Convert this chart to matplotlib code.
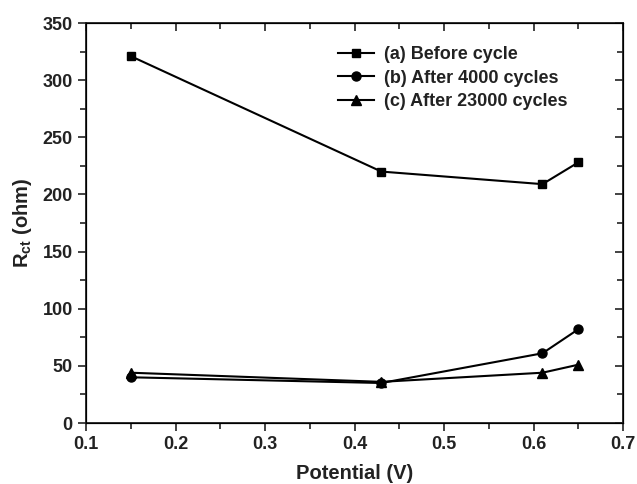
import numpy as np
from matplotlib import pyplot as plt
from matplotlib.ticker import MultipleLocator

plt.rcParams['font.family'] = ['Liberation Sans', 'DejaVu Sans']
plt.rcParams['font.weight'] = 'bold'
plt.rcParams['mathtext.fontset'] = 'custom'
plt.rcParams['mathtext.bf'] = 'Liberation Sans:bold'
plt.rcParams['mathtext.rm'] = 'Liberation Sans:bold'

potential = [0.15, 0.43, 0.61, 0.65]
before = [321, 220, 209, 228]
after4000 = [40, 35, 61, 82]
after23000 = [44, 36, 44, 51]

fig = plt.figure(figsize=(6.37, 4.84), dpi=100)
ax = fig.add_axes([86/637, 61/484, 537/637, 400/484])

ax.plot(potential, before, "k-s", ms=6, lw=1.5, label="(a) Before cycle")
ax.plot(potential, after4000, "k-o", ms=6.5, lw=1.5, label="(b) After 4000 cycles")
ax.plot(potential, after23000, "k-^", ms=6.5, lw=1.5, label="(c) After 23000 cycles")

ax.set_xlim(0.1, 0.7)
ax.set_ylim(0, 350)
ax.xaxis.set_major_locator(MultipleLocator(0.1))
ax.xaxis.set_minor_locator(MultipleLocator(0.05))
ax.yaxis.set_major_locator(MultipleLocator(50))
ax.yaxis.set_minor_locator(MultipleLocator(25))
ax.tick_params(which='both', direction='out', width=1.2, labelsize=13, colors='#222222')
ax.tick_params(which='major', length=6)
ax.tick_params(which='minor', length=4)
for s in ax.spines.values():
    s.set_linewidth(1.3)
    s.set_color('#222222')

# mirror ticks on top/right, inward, no labels
axt = ax.twiny()
axt.set_xlim(ax.get_xlim())
axt.xaxis.set_major_locator(MultipleLocator(0.1))
axt.xaxis.set_minor_locator(MultipleLocator(0.05))
axt.tick_params(which='both', direction='in', labeltop=False, width=1.2, colors='#222222')
axt.tick_params(which='major', length=6)
axt.tick_params(which='minor', length=4)
axr = ax.twinx()
axr.set_ylim(ax.get_ylim())
axr.yaxis.set_major_locator(MultipleLocator(50))
axr.yaxis.set_minor_locator(MultipleLocator(25))
axr.tick_params(which='both', direction='in', labelright=False, width=1.2, colors='#222222')
axr.tick_params(which='major', length=6)
axr.tick_params(which='minor', length=4)

ax.set_xlabel("Potential (V)", fontsize=14.5, fontweight='bold', labelpad=8, color='#222222')
ax.set_ylabel(r"R$_{\mathrm{ct}}$ (ohm)", fontsize=14.5, fontweight='bold', labelpad=6, color='#222222')

leg = ax.legend(loc='upper left', bbox_to_anchor=(0.455, 0.96), frameon=False, fontsize=13,
                handlelength=2.0, handletextpad=0.55, labelspacing=0.35, borderaxespad=0)
for t in leg.get_texts():
    t.set_color('#222222')

plt.savefig("out.png", dpi=100)
